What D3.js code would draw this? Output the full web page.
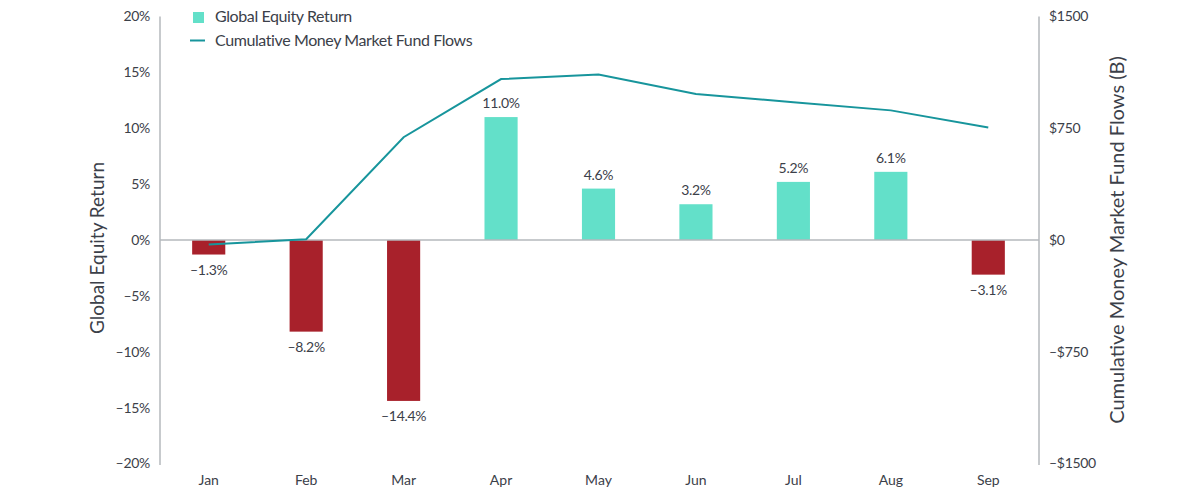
<!DOCTYPE html>
<html><head><meta charset="utf-8">
<script src="https://cdn.jsdelivr.net/npm/d3@7"></script>
<style>
html,body{margin:0;padding:0;background:#fff;}
svg{display:block;font-family:Lato,"Open Sans",sans-serif;}
</style></head>
<body>
<svg id="chart" width="1200" height="496"></svg>
<script>
const months = ["Jan","Feb","Mar","Apr","May","Jun","Jul","Aug","Sep"];
const equityReturn = [-1.3,-8.2,-14.4,11.0,4.6,3.2,5.2,6.1,-3.1];
const mmfFlows = [-30,5,690,1080,1110,980,925,870,755];
const leftTicks = [-20,-15,-10,-5,0,5,10,15,20];
const rightTicks = [-1500,-750,0,750,1500];

const svg = d3.select("#chart");
const L = 160, R = 1037, T = 16.5, B = 463.5;
const textColor = "#3b4049";
const axisColor = "#b4b8bd";
const posColor = "#63e0c9";
const negColor = "#a8212b";
const lineColor = "#17959c";

const x = d3.scaleBand().domain(months).range([L, R]).paddingInner(0.66).paddingOuter(0.33);
const yL = d3.scaleLinear().domain([-20,20]).range([B, T]);
const yR = d3.scaleLinear().domain([-1500,1500]).range([B, T]);
const fmtDash = s => s.replace("-", "\u2013");
const tickFont = "14px";

// axes lines
svg.append("line").attr("x1",L).attr("x2",L).attr("y1",T).attr("y2",B+1.5).attr("stroke",axisColor).attr("stroke-width",1.5);
svg.append("line").attr("x1",R+2).attr("x2",R+2).attr("y1",T).attr("y2",B+1.5).attr("stroke",axisColor).attr("stroke-width",1.5);

// left axis ticks
const la = svg.append("g").attr("transform",`translate(${L},0)`)
  .call(d3.axisLeft(yL).tickValues(leftTicks).tickSize(0).tickPadding(10).tickFormat(d => fmtDash(d + "%")));
la.select(".domain").remove();
la.selectAll("text").attr("fill",textColor).style("font-size",tickFont).style("font-family","Lato").style("letter-spacing","-0.3px");

const ra = svg.append("g").attr("transform",`translate(${R+2},0)`)
  .call(d3.axisRight(yR).tickValues(rightTicks).tickSize(0).tickPadding(10).tickFormat(d => d < 0 ? "\u2013$" + Math.abs(d) : "$" + d));
ra.select(".domain").remove();
ra.selectAll("text").attr("fill",textColor).style("font-size",tickFont).style("font-family","Lato").style("letter-spacing","-0.3px");

// x axis labels
const xa = svg.append("g").attr("transform",`translate(0,${B})`)
  .call(d3.axisBottom(x).tickSize(0).tickPadding(12));
xa.select(".domain").remove();
xa.selectAll("text").attr("fill",textColor).style("font-size",tickFont).style("font-family","Lato");

// bars
svg.append("g").selectAll("rect").data(months).join("rect")
  .attr("x", d => x(d))
  .attr("width", x.bandwidth())
  .attr("y", (d,i) => yL(Math.max(0, equityReturn[i])))
  .attr("height", (d,i) => Math.abs(yL(equityReturn[i]) - yL(0)))
  .attr("fill", (d,i) => equityReturn[i] >= 0 ? posColor : negColor);

// zero line
svg.append("line").attr("x1",L).attr("x2",R+2).attr("y1",yL(0)).attr("y2",yL(0)).attr("stroke",axisColor).attr("stroke-width",1.5);

// bar labels
svg.append("g").selectAll("text").data(months).join("text")
  .attr("x", d => x(d) + x.bandwidth()/2)
  .attr("y", (d,i) => equityReturn[i] >= 0 ? yL(equityReturn[i]) - 9 : yL(equityReturn[i]) + 20)
  .attr("text-anchor","middle")
  .attr("fill",textColor)
  .style("font-size",tickFont)
  .style("letter-spacing","-0.3px")
  .text((d,i) => fmtDash(equityReturn[i].toFixed(1) + "%"));

// line
const line = d3.line().x((d,i) => x(months[i]) + x.bandwidth()/2).y(d => yR(d));
svg.append("path").datum(mmfFlows).attr("d", line).attr("fill","none").attr("stroke",lineColor).attr("stroke-width",2);

// axis titles
svg.append("text").attr("transform","translate(104,248) rotate(-90)").attr("text-anchor","middle")
  .attr("fill",textColor).style("font-size","19px").text("Global Equity Return");
svg.append("text").attr("transform","translate(1124,240) rotate(-90)").attr("text-anchor","middle")
  .attr("fill",textColor).style("font-size","20px").text("Cumulative Money Market Fund Flows (B)");

// legend
const lg = svg.append("g");
lg.append("rect").attr("x",193).attr("y",12).attr("width",11).attr("height",11).attr("fill",posColor);
lg.append("text").attr("x",215).attr("y",22).attr("fill",textColor).style("font-size","16px").style("letter-spacing","-0.4px").text("Global Equity Return");
lg.append("line").attr("x1",190).attr("x2",205).attr("y1",40.5).attr("y2",40.5).attr("stroke",lineColor).attr("stroke-width",2);
lg.append("text").attr("x",215).attr("y",46).attr("fill",textColor).style("font-size","16px").style("letter-spacing","-0.4px").text("Cumulative Money Market Fund Flows");
</script>
</body></html>
